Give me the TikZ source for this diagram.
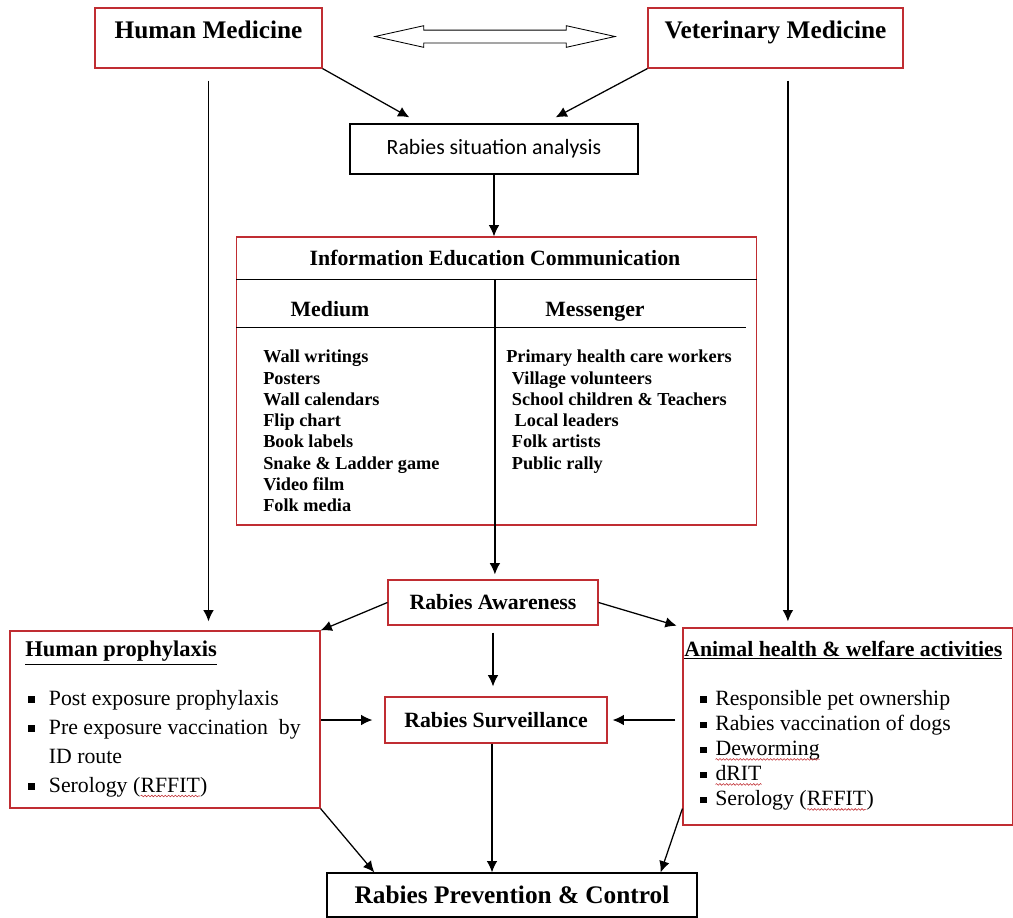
\documentclass[tikz,border=0pt]{standalone}
\usepackage{fontspec}
\setmainfont{Liberation Serif}
\newfontfamily\calibri{Carlito}
\usepackage{xcolor}
\usetikzlibrary{shapes,arrows,positioning,calc,arrows.meta,decorations.pathmorphing}
\definecolor{boxred}{RGB}{192,45,50}
\newcommand{\sqb}{\rule[0.28ex]{0.3em}{0.3em}}
\newcommand{\spell}[1]{\tikz[baseline=(sp.base)]{\node[inner sep=0pt, outer sep=0pt] (sp) {#1};
    \draw[boxred, line width=0.4pt, decorate, decoration={snake, amplitude=0.6pt, segment length=2.4pt}]
        ([yshift=-2.5pt]sp.base west) -- ([yshift=-2.5pt]sp.base east);}}

\begin{document}
\begin{tikzpicture}[x=0.025cm, y=-0.025cm,
    redbox/.style={draw=boxred, line width=0.8pt},
    blackbox/.style={draw, line width=0.9pt},
    arr/.style={-{Latex[length=8pt,width=7.5pt]}, line width=0.9pt},
    big/.style={font=\bfseries\fontsize{18}{21}\selectfont, text height=14pt, text depth=2pt},
    mid/.style={font=\bfseries\fontsize{15.5}{18}\selectfont, text height=12.5pt, text depth=2.5pt},
    small/.style={font=\bfseries\fontsize{13}{15.1}\selectfont}
    ]
    \useasboundingbox (0,0) rectangle (1013,917);

    % Human and Veterinary Medicine
    \node[redbox, minimum width=5.675cm, minimum height=1.5cm,
        label={[big, yshift=0.2cm]center:Human Medicine}] (hmed) at (208.5,38) {};
    \node[redbox, minimum width=6.375cm, minimum height=1.5cm,
        label={[big, yshift=0.2cm]center:Veterinary Medicine}] (vmed) at (775.5,38) {};
    \node[double arrow, draw, line width=0.6pt, minimum height=6cm, minimum width=0.525cm,
        inner sep=0.15cm, double arrow head extend=0.11cm, double arrow tip angle=25] (link) at (495,36.5) {};

    % Situation analysis
    \node[blackbox, minimum width=7.2cm, minimum height=1.25cm,
        font=\calibri\fontsize{15.5}{18}\selectfont] (sit) at (494,149) {Rabies situation analysis};
    \draw[arr] (hmed.south east) -- ([xshift=1.5cm,yshift=0.15cm]sit.north west);
    \draw[arr] (vmed.south west) -- ([xshift=-2.075cm,yshift=0.15cm]sit.north east);

    % IEC table
    \node[redbox, minimum width=12.975cm, minimum height=7.2cm] (iec) at (496.5,381) {};
    \coordinate (hdr) at ([yshift=-1.075cm]iec.north west);
    \coordinate (sub) at ([yshift=-2.275cm]iec.north west);
    \draw[line width=0.9pt] (hdr) -- (hdr -| iec.east);
    \draw[line width=0.9pt] (sub) -- ([xshift=-0.275cm]sub -| iec.east);
    \draw[line width=0.9pt] ([xshift=-0.04cm]iec.south) -- ([xshift=-0.04cm]iec.south |- hdr);
    \node[mid] (iectitle) at (495,258) {Information Education Communication};
    \node[mid] (medium) at (330,309) {Medium};
    \node[mid] (messenger) at (595,309) {Messenger};
    \node[small, anchor=north west, align=left, inner sep=0] (mediumlist) at (263,350)
        {Wall writings\\Posters\\Wall calendars\\Flip chart\\Book labels\\Snake \& Ladder game\\Video film\\Folk media};
    \node[small, anchor=north west, align=left, inner sep=0] (messengerlist) at (506,350)
        {Primary health care workers\\\hspace*{4pt}Village volunteers\\\hspace*{4pt}School children \& Teachers\\
         \hspace*{6pt}Local leaders\\\hspace*{4pt}Folk artists\\\hspace*{4pt}Public rally};
    \draw[arr] (sit.south) -- (sit.south |- iec.north);

    % Awareness and surveillance
    \node[redbox, mid, minimum width=5.25cm, minimum height=1.125cm] (aware) at (493,602.5) {Rabies Awareness};
    \node[redbox, mid, minimum width=5.55cm, minimum height=1.15cm] (surv) at (496,720) {Rabies Surveillance};
    \draw[arr, shorten >=0.125cm] ([xshift=-0.04cm]iec.south) -- ([xshift=-0.04cm]iec.south |- aware.north);

    % Human prophylaxis
    \node[redbox, minimum width=7.75cm, minimum height=4.425cm] (hpro) at (165,719.5) {};
    \node[font=\bfseries\fontsize{16}{19}\selectfont, anchor=west, inner sep=0] (hprotitle) at (25,653)
        {\underline{Human prophylaxis}};
    \node[font=\fontsize{15.5}{20.6}\selectfont, anchor=north west, inner sep=0] (hprolist) at (28,685)
        {\begin{tabular}{@{}l@{\hspace{10pt}}l@{}}
            \sqb & Post exposure prophylaxis\\
            \sqb & Pre exposure vaccination\ \ by\\
                 & ID route\\
            \sqb & Serology (\spell{RFFIT})
        \end{tabular}};

    % Animal health
    \node[redbox, minimum width=8.25cm, minimum height=4.925cm] (anim) at (848,726.5) {};
    \node[mid, anchor=west, inner sep=0] (animtitle) at (684,649)
        {\underline{Animal health \& welfare activities}};
    \node[font=\fontsize{15.5}{17.8}\selectfont, anchor=north west, inner sep=0] (animlist) at (700,688)
        {\begin{tabular}{@{}l@{\hspace{6pt}}l@{}}
            \sqb & Responsible pet ownership\\
            \sqb & Rabies vaccination of dogs\\
            \sqb & \spell{Deworming}\\
            \sqb & \spell{dRIT}\\
            \sqb & Serology (\spell{RFFIT})
        \end{tabular}};

    % Prevention and control
    \node[blackbox, big, minimum width=9.25cm, minimum height=1.1cm] (prev) at (512,895)
        {Rabies Prevention \& Control};

    % long side arrows
    \draw[arr, shorten >=0.225cm] ([yshift=-0.3cm]hmed.south) -- (hmed.south |- hpro.north);
    \draw[arr, shorten >=0.15cm] ([xshift=0.31cm,yshift=-0.3cm]vmed.south) -- ([xshift=0.31cm]vmed.south |- anim.north);

    % arrows round the middle
    \draw[arr] (aware.west) -- (hpro.north east);
    \draw[arr, shorten >=0.15cm] (aware.east) -- (anim.north west);
    \draw[arr, shorten <=0.175cm, shorten >=0.25cm] (aware.south) -- (aware.south |- surv.north);
    \draw[arr, shorten >=0.3cm] (hpro.east |- surv.west) -- (surv.west);
    \draw[arr, shorten <=0.175cm, shorten >=0.125cm] (anim.west |- surv.east) -- (surv.east);
    \draw[arr] ([xshift=-0.1cm]surv.south) -- ([xshift=-0.1cm]surv.south |- prev.north);
    \draw[arr] (hpro.south east) -- ([xshift=1.2cm]prev.north west);
    \draw[arr] ([yshift=0.425cm]anim.south west) -- ([xshift=-0.925cm]prev.north east);
\end{tikzpicture}
\end{document}
